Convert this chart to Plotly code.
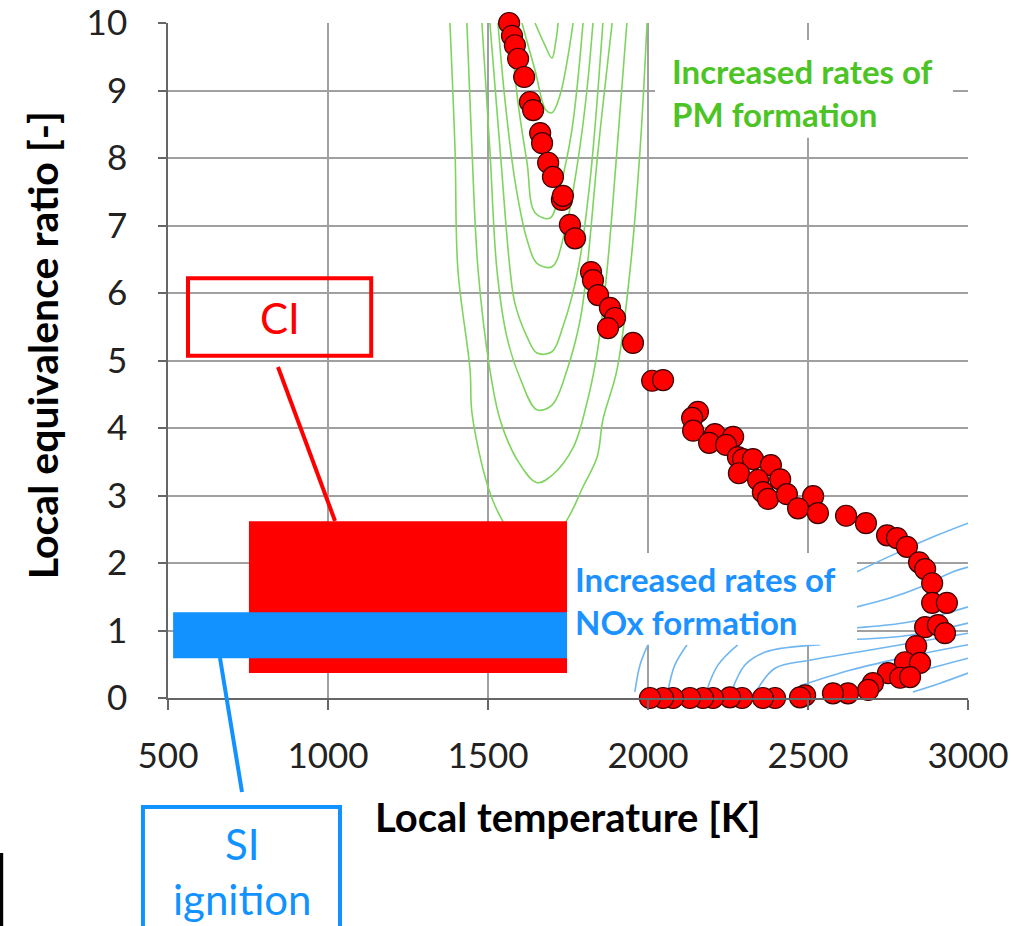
import plotly.graph_objects as go

# ---------------- data ----------------
# Local temperature [K] / local equivalence ratio [-] of the CFD cells
temp_K = [1566, 1575, 1584, 1594, 1613, 1631, 1641, 1663, 1669, 1688, 1703, 1731, 1734,
          1756, 1772, 1822, 1828, 1844, 1881, 1897, 1875, 1953, 2013, 2047, 2156, 2138,
          2141, 2209, 2266, 2191, 2244, 2281, 2297, 2328, 2384, 2284, 2344, 2413, 2359,
          2375, 2434, 2516, 2469, 2531, 2619, 2681, 2747, 2778, 2809, 2847, 2866, 2888,
          2888, 2934, 2866, 2906, 2928, 2838, 2803, 2850, 2750, 2788, 2819, 2703, 2688,
          2625, 2578, 2491, 2475, 2397, 2359, 2294, 2256, 2203, 2172, 2131, 2078, 2047, 2006]
equiv_ratio = [10.0, 9.81, 9.67, 9.47, 9.20, 8.83, 8.71, 8.37, 8.22, 7.93, 7.72, 7.38, 7.44,
               7.01, 6.81, 6.31, 6.19, 5.97, 5.78, 5.63, 5.48, 5.26, 4.70, 4.71, 4.24, 4.15,
               3.96, 3.91, 3.87, 3.78, 3.75, 3.57, 3.54, 3.54, 3.45, 3.33, 3.23, 3.24, 3.05,
               2.95, 3.02, 2.99, 2.81, 2.74, 2.70, 2.59, 2.41, 2.37, 2.24, 2.01, 1.91, 1.70,
               1.41, 1.41, 1.05, 1.08, 0.96, 0.77, 0.53, 0.52, 0.37, 0.30, 0.31, 0.22, 0.12,
               0.07, 0.07, 0.04, 0.01, 0.0, 0.0, 0.0, 0.01, 0.0, 0.0, 0.0, 0.0, 0.0, 0.0]

# PM formation-rate iso-lines (green), innermost to outermost
pm1_T = [1647, 1678, 1700, 1712, 1719]
pm1_phi = [10.0, 9.67, 9.48, 9.73, 10.0]
pm2_T = [1606, 1647, 1681, 1700, 1725, 1766]
pm2_phi = [10.0, 9.30, 8.71, 8.67, 8.93, 10.0]
pm3_T = [1569, 1594, 1622, 1647, 1694, 1725, 1762, 1797]
pm3_phi = [10.0, 8.81, 7.93, 7.19, 7.11, 7.56, 8.41, 10.0]
pm4_T = [1531, 1553, 1584, 1622, 1653, 1700, 1741, 1781, 1809, 1828]
pm4_phi = [10.0, 8.86, 7.67, 6.79, 6.44, 6.39, 6.93, 7.96, 9.0, 10.0]
pm5_T = [1506, 1538, 1569, 1584, 1622, 1653, 1700, 1734, 1781, 1819, 1859]
pm5_phi = [10.0, 8.11, 6.34, 5.85, 5.35, 5.11, 5.13, 5.50, 6.34, 7.67, 10.0]
pm6_T = [1481, 1506, 1528, 1559, 1600, 1653, 1700, 1747, 1788, 1809, 1844, 1888]
pm6_phi = [10.0, 8.11, 6.34, 5.35, 4.74, 4.27, 4.34, 4.86, 5.60, 6.34, 8.11, 10.0]
pm7_T = [1434, 1450, 1469, 1506, 1538, 1591, 1653, 1700, 1766, 1809, 1841, 1872, 1903, 1934]
pm7_phi = [10.0, 8.11, 6.34, 4.86, 4.12, 3.53, 3.19, 3.30, 3.71, 4.37, 5.11, 6.34, 8.11, 10.0]
pm8_T = [1381, 1397, 1406, 1444, 1450, 1500, 1544, 1647, 1747, 1797, 1841, 1859, 1903, 1944, 1975, 1997]
pm8_phi = [10.0, 8.11, 6.34, 4.86, 4.22, 3.13, 2.64, 2.04, 2.64, 3.13, 3.57, 4.12, 4.86, 6.34, 8.11, 10.0]

# NOx formation-rate iso-lines (blue)
nox1_T = [2653, 2778, 2903, 3000]
nox1_phi = [1.87, 2.15, 2.41, 2.59]
nox2_T = [2653, 2756, 2850, 2953, 3000]
nox2_phi = [1.35, 1.48, 1.64, 1.87, 1.94]
nox3_T = [2653, 2797, 2913, 3000]
nox3_phi = [1.04, 1.11, 1.23, 1.35]
nox4_T = [2653, 2819, 3000]
nox4_phi = [0.87, 0.93, 1.11]
nox5_T = [1959, 1975, 2000]
nox5_phi = [0.09, 0.49, 0.79]
nox6_T = [2063, 2084, 2122]
nox6_phi = [0.12, 0.49, 0.79]
nox7_T = [2184, 2219, 2281]
nox7_phi = [0.12, 0.49, 0.79]
nox8_T = [2263, 2303, 2366, 2538]
nox8_phi = [0.12, 0.49, 0.68, 0.79]
nox9_T = [2341, 2397, 2506, 2694, 3000]
nox9_phi = [0.12, 0.44, 0.56, 0.71, 0.96]
nox10_T = [2475, 2631, 2819, 3000]
nox10_phi = [0.18, 0.41, 0.62, 0.79]
nox11_T = [2663, 2819, 3000]
nox11_phi = [0.15, 0.36, 0.59]
nox12_T = [2828, 2913, 3000]
nox12_phi = [0.09, 0.22, 0.37]

# Operating windows
ci_T_range = [753, 1747]
ci_phi_range = [0.37, 2.62]
si_T_range = [516, 1747]
si_phi_range = [0.59, 1.27]

x_ticks = [500, 1000, 1500, 2000, 2500, 3000]
y_ticks = [0, 1, 2, 3, 4, 5, 6, 7, 8, 9, 10]

# ---------------- figure ----------------
GREEN = "#7fd45f"
BLUE_LINE = "#70b6f0"
RED = "#ff0000"
BLUE = "#1192ff"
FONT = "Lato"

fig = go.Figure()

pm_lines = [(pm1_T, pm1_phi), (pm2_T, pm2_phi), (pm3_T, pm3_phi), (pm4_T, pm4_phi),
            (pm5_T, pm5_phi), (pm6_T, pm6_phi), (pm7_T, pm7_phi), (pm8_T, pm8_phi)]
for tx, py in pm_lines:
    fig.add_trace(go.Scatter(x=tx, y=py, mode="lines", line=dict(color=GREEN, width=1.6),
                             line_shape="spline", hoverinfo="skip", showlegend=False))

nox_lines = [(nox1_T, nox1_phi), (nox2_T, nox2_phi), (nox3_T, nox3_phi), (nox4_T, nox4_phi),
             (nox5_T, nox5_phi), (nox6_T, nox6_phi), (nox7_T, nox7_phi), (nox8_T, nox8_phi),
             (nox9_T, nox9_phi), (nox10_T, nox10_phi), (nox11_T, nox11_phi), (nox12_T, nox12_phi)]
for tx, py in nox_lines:
    fig.add_trace(go.Scatter(x=tx, y=py, mode="lines", line=dict(color=BLUE_LINE, width=1.6),
                             line_shape="spline", hoverinfo="skip", showlegend=False))

fig.add_trace(go.Scatter(
    x=temp_K, y=equiv_ratio, mode="markers", cliponaxis=False, showlegend=False,
    marker=dict(size=21, color=RED, line=dict(color="#3c0000", width=1.2)),
))

shapes = []
# white backgrounds of the two labels (hide grid / iso-lines)
shapes.append(dict(type="rect", xref="x", yref="y", x0=2022, x1=2953, y0=8.30, y1=9.75,
                   fillcolor="white", line=dict(width=0), layer="above"))
shapes.append(dict(type="rect", xref="x", yref="y", x0=ci_T_range[1], x1=2653, y0=0.79, y1=2.15,
                   fillcolor="white", line=dict(width=0), layer="above"))
# CI and SI windows
shapes.append(dict(type="rect", xref="x", yref="y", x0=ci_T_range[0], x1=ci_T_range[1],
                   y0=ci_phi_range[0], y1=ci_phi_range[1], fillcolor=RED,
                   line=dict(width=0), layer="above"))
shapes.append(dict(type="rect", xref="x", yref="y", x0=si_T_range[0], x1=si_T_range[1],
                   y0=si_phi_range[0], y1=si_phi_range[1], fillcolor=BLUE,
                   line=dict(width=0), layer="above"))
# CI call-out
shapes.append(dict(type="rect", xref="paper", yref="paper", x0=0.025, x1=0.254, y0=0.507, y1=0.622,
                   line=dict(color=RED, width=4), fillcolor="rgba(0,0,0,0)", layer="above"))
shapes.append(dict(type="line", xref="paper", yref="paper", x0=0.1375, y0=0.4904, x1=0.2088, y1=0.2622,
                   line=dict(color=RED, width=4), layer="above"))
# SI call-out
shapes.append(dict(type="rect", xref="paper", yref="paper", x0=-0.0313, x1=0.215, y0=-0.36, y1=-0.1615,
                   line=dict(color=BLUE, width=4), fillcolor="rgba(0,0,0,0)", layer="above"))
shapes.append(dict(type="line", xref="paper", yref="paper", x0=0.065, y0=0.0593, x1=0.0925, y1=-0.1393,
                   line=dict(color=BLUE, width=4), layer="above"))
# black edge at bottom-left
shapes.append(dict(type="line", xref="paper", yref="paper", x0=-0.2085, y0=-0.2296, x1=-0.2085, y1=-0.345,
                   line=dict(color="black", width=4), layer="above"))

annotations = [
    dict(xref="paper", yref="paper", x=0.6275, y=0.897, xanchor="left", yanchor="middle", align="left",
         text="<b>Increased rates of<br>PM formation</b>", showarrow=False,
         font=dict(family=FONT, size=33, color="#4cc425")),
    dict(xref="paper", yref="paper", x=0.506, y=0.145, xanchor="left", yanchor="middle", align="left",
         text="<b>Increased rates of<br>NOx formation</b>", showarrow=False,
         font=dict(family=FONT, size=33, color="#1b92ff")),
    dict(xref="paper", yref="paper", x=0.14, y=0.563, xanchor="center", yanchor="middle",
         text="CI", showarrow=False, font=dict(family=FONT, size=42, color=RED)),
    dict(xref="paper", yref="paper", x=0.0925, y=-0.257, xanchor="center", yanchor="middle",
         text="SI<br>ignition", showarrow=False, font=dict(family=FONT, size=42, color=BLUE)),
    dict(xref="paper", yref="paper", x=-0.156, y=0.523, xanchor="center", yanchor="middle",
         text="<b>Local equivalence ratio [-]</b>", textangle=-90, showarrow=False,
         font=dict(family=FONT, size=41, color="black")),
    dict(xref="paper", yref="paper", x=0.5, y=-0.176, xanchor="center", yanchor="middle",
         text="<b>Local temperature [K]</b>", showarrow=False,
         font=dict(family=FONT, size=40, color="black")),
]

fig.update_layout(
    width=1014, height=926,
    margin=dict(l=168, r=46, t=23, b=228, autoexpand=False),
    paper_bgcolor="white", plot_bgcolor="white",
    shapes=shapes, annotations=annotations,
    showlegend=False,
)
fig.update_xaxes(range=[500, 3000], tickvals=x_ticks, showgrid=True, gridcolor="#a0a0a0", gridwidth=1.6,
                 showline=True, linecolor="#666666", linewidth=1.6, ticks="outside", ticklen=10,
                 tickcolor="#666666", tickwidth=1.6, zeroline=False, ticklabelstandoff=16,
                 automargin=False,
                 tickfont=dict(family=FONT, size=35, color="#222222"))
fig.update_yaxes(range=[0, 10], tickvals=y_ticks, showgrid=True, gridcolor="#a0a0a0", gridwidth=1.6,
                 showline=True, linecolor="#666666", linewidth=1.6, ticks="outside", ticklen=8,
                 tickcolor="#666666", tickwidth=1.6, zeroline=False, ticklabelstandoff=24,
                 automargin=False,
                 tickfont=dict(family=FONT, size=35, color="#222222"))

fig.write_html("out.html")
